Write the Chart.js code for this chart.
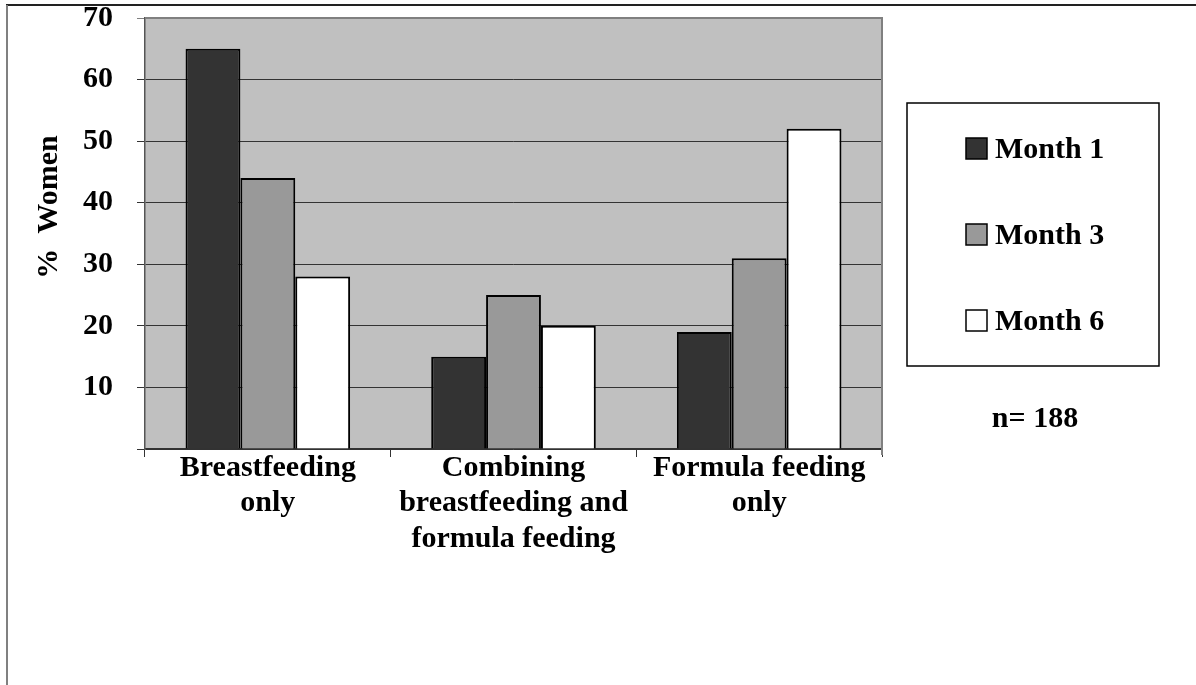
<!DOCTYPE html>
<html>
<head>
<meta charset="utf-8">
<script src="https://cdn.jsdelivr.net/npm/chart.js@4.4.0/dist/chart.umd.min.js"></script>
<style>
  html, body { margin: 0; padding: 0; background: #fff; }
  #wrap { width: 1196px; height: 685px; position: relative; }
</style>
</head>
<body>
<div id="wrap"><canvas id="grafica"></canvas></div>
<script>
var categorias = [
    ['Breastfeeding', 'only'],
    ['Combining', 'breastfeeding and', 'formula feeding'],
    ['Formula feeding', 'only']
];
var mes1 = [65, 15, 19];
var mes3 = [44, 25, 31];
var mes6 = [28, 20, 52];
var etiquetasSerie = ['Month 1', 'Month 3', 'Month 6'];
var ticksY = [10, 20, 30, 40, 50, 60, 70];
var tituloY = '%  Women';
var notaN = 'n= 188';

var fuente = 'bold 30px "Liberation Serif", "Times New Roman", serif';
var colores = ['#333333', '#999999', '#ffffff'];

// fondo gris del area, marco exterior, titulo del eje y leyenda
var extras = {
    id: 'extras',
    beforeDraw: function (chart) {
        var ctx = chart.ctx, a = chart.chartArea;
        ctx.save();
        ctx.fillStyle = '#c0c0c0';
        ctx.fillRect(a.left, a.top, a.right - a.left, a.bottom - a.top);
        // marco de la figura
        ctx.strokeStyle = '#222';
        ctx.lineWidth = 2;
        ctx.beginPath();
        ctx.moveTo(6, 5); ctx.lineTo(chart.width, 5);
        ctx.stroke();
        ctx.strokeStyle = '#808080';
        ctx.beginPath();
        ctx.moveTo(7, 5); ctx.lineTo(7, chart.height);
        ctx.stroke();
        ctx.restore();
    },
    afterDraw: function (chart) {
        var ctx = chart.ctx, a = chart.chartArea;
        ctx.save();
        // borde superior y derecho del area
        ctx.strokeStyle = '#808080';
        ctx.lineWidth = 2;
        ctx.beginPath();
        ctx.moveTo(a.left, a.top);
        ctx.lineTo(a.right, a.top);
        ctx.lineTo(a.right, a.bottom + 6);
        ctx.stroke();

        // titulo del eje y
        ctx.fillStyle = '#000';
        ctx.font = fuente;
        ctx.textAlign = 'center';
        ctx.textBaseline = 'middle';
        ctx.translate(49, 207);
        ctx.rotate(-Math.PI / 2);
        ctx.fillText(tituloY, 0, 0);
        ctx.setTransform(1, 0, 0, 1, 0, 0);

        // leyenda
        var bx = a.right + 25, by = 103, bw = 252, bh = 263;
        ctx.strokeStyle = '#000';
        ctx.lineWidth = 1.5;
        ctx.strokeRect(bx, by, bw, bh);
        chart.data.datasets.forEach(function (ds, i) {
            var y = 149 + i * 86;
            ctx.fillStyle = ds.backgroundColor;
            ctx.fillRect(bx + 59, y - 11, 21, 21);
            ctx.strokeStyle = '#000';
            ctx.lineWidth = 1.5;
            ctx.strokeRect(bx + 59, y - 11, 21, 21);
            ctx.fillStyle = '#000';
            ctx.textAlign = 'left';
            ctx.textBaseline = 'middle';
            ctx.fillText(ds.label, bx + 88, y + 1);
        });
        ctx.textAlign = 'center';
        ctx.fillText(notaN, bx + 128, 419);
        ctx.restore();
    }
};

var datosGrafica = {
    labels: categorias,
    datasets: [mes1, mes3, mes6].map(function (serie, i) {
        return {
            label: etiquetasSerie[i],
            data: serie,
            backgroundColor: colores[i],
            borderColor: '#000',
            borderWidth: 2,
            categoryPercentage: 0.67,
            barPercentage: 1.0
        };
    })
};

var configuracion = {
    type: 'bar',
    data: datosGrafica,
    options: {
        responsive: false,
        animation: false,
        layout: { padding: { left: 83, right: 314, top: 18, bottom: 106 } },
        plugins: { legend: { display: false }, tooltip: { enabled: false } },
        scales: {
            x: {
                afterFit: function (s) {
                    s.height = 130;
                    s.paddingLeft = 0; s.paddingRight = 0;
                },
                grid: { offset: true, drawOnChartArea: false, tickLength: 8, color: '#333', lineWidth: 1 },
                border: { color: '#333', width: 1.5 },
                ticks: { color: '#000', font: { family: '"Liberation Serif", "Times New Roman", serif', size: 30, weight: 'bold', lineHeight: 1.17 }, padding: -6, maxRotation: 0, autoSkip: false }
            },
            y: {
                min: 0,
                max: 70,
                afterFit: function (s) {
                    s.width = 62;
                    s.paddingTop = 0; s.paddingBottom = 0;
                },
                afterBuildTicks: function (s) {
                    s.ticks = [0].concat(ticksY).map(function (v) { return { value: v }; });
                },
                grid: {
                    tickLength: 8,
                    lineWidth: 1,
                    color: function (c) { return c.tick && c.tick.value === 70 ? '#808080' : '#333'; }
                },
                border: { color: '#555', width: 1.5 },
                ticks: {
                    color: '#000',
                    padding: 24,
                    font: { family: '"Liberation Serif", "Times New Roman", serif', size: 30, weight: 'bold' },
                    callback: function (v) { return v === 0 ? '' : String(v); }
                }
            }
        }
    },
    plugins: [extras]
};

var canvas = document.getElementById('grafica');
canvas.width = 1196;
canvas.height = 685;
var graficaJavascript = new Chart(canvas, configuracion);
</script>
</body>
</html>
